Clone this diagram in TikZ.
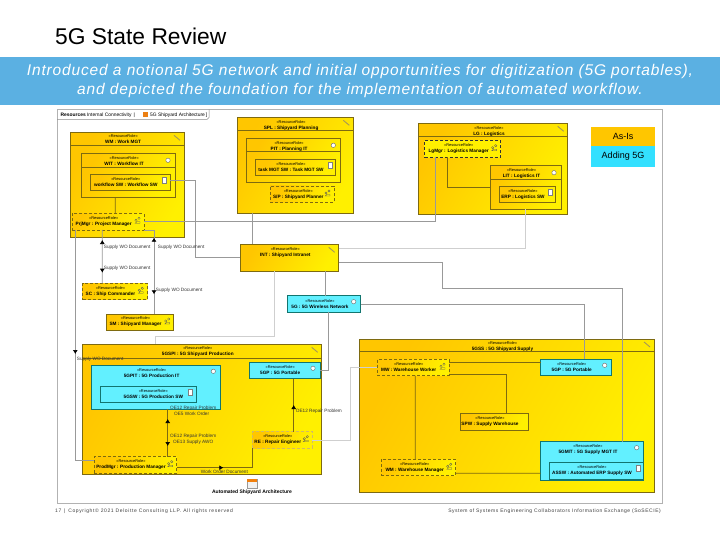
\documentclass[tikz,border=0pt]{standalone}
\usepackage{fontspec}
\setmainfont{Liberation Sans}
\usetikzlibrary{arrows.meta}
\usetikzlibrary{calc}
\usetikzlibrary{decorations.markings}
\definecolor{banner}{HTML}{5BB0E2}
\definecolor{orangey}{HTML}{FFC600}
\definecolor{yellowy}{HTML}{FFF000}
\definecolor{cyanbox}{HTML}{62F0FF}
\definecolor{legendcy}{HTML}{33E0FF}
\definecolor{olivey}{HTML}{7E6A10}
\definecolor{tealy}{HTML}{12756F}
\definecolor{wire}{HTML}{999999}
\definecolor{paleline}{HTML}{CFCFCF}
\newcommand{\rr}{{\fontsize{3.9}{6}\selectfont «ResourceRole»}}
\newcommand{\nm}[1]{{\bfseries #1}}
\newcommand{\rn}[2][9pt]{\rr\kern#1\relax\\\nm{#2}\kern#1\relax}
\newcommand{\hdr}[3]{\node[hdrtext] (#1txt) at ($(#1.north)+(-4.2,#3)$) {\rr\\\nm{#2}};}
\newcommand{\hdrline}[3]{\draw[#3] ($(#1.north west)+(0,#2)$) -- ($(#1.north east)+(0,#2)$);}
\begin{document}
\begin{tikzpicture}[x=1pt, y=-1pt, font=\fontsize{4.7}{6}\selectfont]

    % TikZ styles for drawing %%%%%%%%%%%%%%%%%%%%%%%%%%%%%%%%%%%%%%%%%%%%%%%%%%%%%%
    \tikzset{dims/.style 2 args={minimum width=#1,minimum height=#2}}
    \tikzstyle{base} = [rectangle,inner sep=0pt,outer sep=0pt,align=center]
    \tikzstyle{role} = [base,draw=olivey,line width=0.7pt,left color=orangey,right color=yellowy,shading angle=60]
    \tikzstyle{roledash} = [role,dash pattern=on 3pt off 2pt]
    \tikzstyle{sysfive} = [base,draw=tealy,line width=0.8pt,fill=cyanbox]
    \tikzstyle{hdrtext} = [inner sep=0pt,anchor=north,align=center]
    \tikzstyle{note} = [inner sep=0pt,anchor=west,text=black!80]
    \tikzstyle{line} = [wire,line width=0.7pt]
    \tikzstyle{pale} = [paleline,line width=0.7pt]
    \tikzstyle{inner} = [olivey,line width=0.7pt]
    \tikzset{flow/.style={postaction={decorate,decoration={markings,mark=at position #1 with {\arrow[black]{Latex[length=4pt,width=5pt]}}}}},
      back/.style={postaction={decorate,decoration={markings,mark=at position #1 with {\arrowreversed[black]{Latex[length=4pt,width=5pt]}}}}}}

    % Page %%%%%%%%%%%%%%%%%%%%%%%%%%%%%%%%%%%%%%%%%%%%%%%%%%%%%%%%%%%%%%%%%%%%%%%%%%
    \useasboundingbox (0,0) rectangle (720,540);
    \fill[white] (0,0) rectangle (720,540);
    \node[anchor=west,inner sep=0pt,font=\fontsize{22.8}{26}\selectfont] (title) at (55,36) {5G State Review};
    \node[base,fill=banner,dims={720pt}{47.7pt},text=white,
          font=\fontsize{15.5}{19}\selectfont\itshape\addfontfeatures{LetterSpace=5.5}] (banner) at (360,81.15)
      {Introduced a notional 5G network and initial opportunities for digitization (5G portables),\\
       and depicted the foundation for the implementation of automated workflow.};
    \node[base,draw=black!30,line width=0.8pt,fill=white,dims={605pt}{394pt}] (frame) at (359.5,306.5) {};

    % Diagram tab
    \draw[black!45,line width=0.5pt] (frame.north west) ++(0,10) -- ++(150,0) -- ++(2,-2) -- ++(0,-8);
    \node[anchor=west,inner sep=0pt,font=\fontsize{4.9}{6}\selectfont] (tab) at (60.5,115)
      {\nm{Resources} Internal Connectivity \,|};
    \node[anchor=west,inner sep=0pt,font=\fontsize{4.9}{6}\selectfont] (tabname) at (150,115)
      {5G Shipyard Architecture\,]};
    \node[base,fill=orange!70!brown,dims={5pt}{5pt}] (tabicon) at (145.5,115) {};

    % Legend
    \node[base,fill=orangey,dims={64pt}{19pt},font=\fontsize{9}{10}\selectfont] (asis) at (623,136.8) {As-Is};
    \node[base,fill=legendcy,dims={64pt}{20.7pt},font=\fontsize{9}{10}\selectfont] (adding) at (623,156.65) {Adding 5G};

    % Top left: work management %%%%%%%%%%%%%%%%%%%%%%%%%%%%%%%%%%%%%%%%%%%%%%%%%%%%%%
    \node[role,dims={113.3pt}{105.4pt}] (wm) at (127.35,185) {};
    \hdr{wm}{WM : Work MGT}{2.2}
    \hdrline{wm}{13.4}{inner}
    \node[role,dims={93.3pt}{44pt}] (wit) at (128.35,175.3) {};
    \hdr{wit}{WIT : Workflow IT}{2.7}
    \hdrline{wit}{14.4}{inner}
    \node[role,dims={80pt}{16.4pt}] (wfsw) at (130.3,182.5) {\rn{workflow SW : Workflow SW}};
    \node[roledash,dims={71.7pt}{16.7pt}] (prjmgr) at (108.15,221.65) {\rn{PrjMgr : Project Manager}};

    \node[role,dims={64.6pt}{16.4pt},roledash] (sc) at (115,291.5) {\rn{SC : Ship Commander}};
    \node[role,dims={67.4pt}{16pt}] (sm) at (140,322) {\rn{SM : Shipyard Manager}};

    % Top middle: shipyard planning and intranet %%%%%%%%%%%%%%%%%%%%%%%%%%%%%%%%%%%%%%
    \node[role,dims={116pt}{96pt}] (spl) at (295.3,165.3) {};
    \hdr{spl}{SPL : Shipyard Planning}{2.7}
    \hdrline{spl}{13.4}{inner}
    \node[role,dims={94pt}{44.4pt}] (pit) at (293.3,160.5) {};
    \hdr{pit}{PIT : Planning IT}{2.7}
    \hdrline{pit}{13.4}{inner}
    \node[role,dims={80.4pt}{16.4pt}] (task) at (295.5,167.5) {\rn{task MGT SW : Task MGT SW}};
    \node[roledash,dims={64pt}{16.3pt}] (sp) at (302,194.15) {\rn[7.4pt]{S/P : Shipyard Planner}};
    \node[role,dims={98.4pt}{27pt}] (int) at (289.5,257.8) {};
    \hdr{int}{INT : Shipyard Intranet}{2.7}
    \node[sysfive,dims={73pt}{16.6pt}] (wl) at (324.2,304) {\rn[8.4pt]{5G : 5G Wireless Network}};

    % Top right: logistics %%%%%%%%%%%%%%%%%%%%%%%%%%%%%%%%%%%%%%%%%%%%%%%%%%%%%%%%%%%%
    \node[role,dims={149pt}{91pt}] (lg) at (493.2,168.8) {};
    \hdr{lg}{LG : Logistics}{3}
    \hdrline{lg}{13.4}{inner}
    \node[role,draw=black!80,dash pattern=on 3pt off 2pt,dims={76pt}{16.6pt},left color=yellowy,right color=yellowy] (lgmgr) at (462.7,149) {\rn[8pt]{LgMgr : Logistics Manager}};
    \node[role,dims={70.7pt}{43.6pt}] (lit) at (525.65,187.5) {};
    \hdr{lit}{LIT : Logistics IT}{2.7}
    \hdrline{lit}{13.4}{inner}
    \node[role,dims={56.4pt}{16pt}] (erp) at (527.5,194.3) {\rn{ERP : Logistics SW}};

    % Bottom left: 5G shipyard production %%%%%%%%%%%%%%%%%%%%%%%%%%%%%%%%%%%%%%%%%%%%%
    \node[role,dims={239.4pt}{129.7pt},line width=0.9pt] (spi) at (202,409.15) {};
    \hdr{spi}{5GSPI : 5G Shipyard Production}{2.2}
    \hdrline{spi}{14}{inner}
    \node[sysfive,dims={129pt}{44pt}] (pitfive) at (155.8,387.3) {};
    \hdr{pitfive}{5GPIT : 5G Production IT}{2.7}
    \node[sysfive,dims={96pt}{16pt}] (prodsw) at (148.3,394.3) {\hspace*{10pt}\rr\\\hspace*{10pt}\nm{5GSW : 5G Production SW}};
    \node[sysfive,dims={70.7pt}{16.4pt}] (gp) at (284.65,370.5) {\rn{5GP : 5G Portable}};
    \node[role,draw=orangey!70!black!60,dash pattern=on 3pt off 2pt,dims={60pt}{16.3pt}] (re) at (282.3,439.85) {\rn{RE : Repair Engineer}};
    \node[roledash,dims={82.4pt}{16.6pt}] (prodmgr) at (135.5,465) {\rn{ProdMgr : Production Manager}};

    % Bottom right: 5G shipyard supply %%%%%%%%%%%%%%%%%%%%%%%%%%%%%%%%%%%%%%%%%%%%%%%%
    \node[role,dims={294.7pt}{153.7pt},line width=0.9pt] (ss) at (506.65,415.85) {};
    \hdr{ss}{5GSS : 5G Shipyard Supply}{2.2}
    \hdrline{ss}{12}{inner}
    \node[roledash,dims={71.7pt}{16.4pt}] (mw) at (413.15,367.5) {\rn{MW : Warehouse Worker}};
    \node[sysfive,dims={71pt}{16.4pt}] (gpsup) at (576.2,367.5) {\rn{5GP : 5G Portable}};
    \node[role,dims={68.4pt}{16.6pt}] (spw) at (494.5,422) {\rn{SPW : Supply Warehouse}};
    \node[sysfive,dims={103pt}{38.3pt}] (mit) at (592.2,460.85) {};
    \hdr{mit}{5GMIT : 5G Supply MGT IT}{3}
    \node[sysfive,dims={94.4pt}{17pt}] (assw) at (596.5,470.8) {\rn{ASSW : Automated ERP Supply SW}};
    \node[roledash,dims={74.7pt}{15.7pt}] (wh) at (418.35,467.15) {\rn[7.3pt]{WM : Warehouse Manager}};

    % Now link the nodes %%%%%%%%%%%%%%%%%%%%%%%%%%%%%%%%%%%%%%%%%%%%%%%%%%%%%%%%%%%%%%%%
    \draw [inner] ([xshift=-13.05pt]wit.south) -- ([xshift=7.15pt]prjmgr.north);
    \draw [line]  ([yshift=2.5pt]wfsw.east) -- ++(25.4,0) |- (int.west);
    \draw [line]  (prjmgr.east) -| ([xshift=-27pt]lgmgr.south);
    \draw [line]  ([xshift=-43pt]spl.south) -- ([xshift=-37.2pt]int.north);
    \draw [pale]  ([yshift=9.5pt]int.east) -| (lit.south);
    \draw [line]  ([yshift=-4.5pt]int.east) -- ++(103.6,0) -- ++(0,26) -| ([xshift=30.5pt]mit.north);
    \draw [pale]  ([xshift=-15.2pt]int.south) -- ++(0,65.4) -| ([xshift=-46.3pt]spi.north);
    \draw [line]  ([xshift=35.8pt]int.south) -- ([xshift=1.1pt]wl.north);
    \draw [line]  (wl.east) -| ([xshift=8.1pt]gpsup.north);
    \draw [line]  ([xshift=4.1pt]wl.south) |- (gp.east);
    \draw [inner] ([xshift=-15.4pt]lgmgr.south) |- (lit.west);

    \draw [line,back=10pt,flow=42.7pt] ([xshift=-5.85pt]prjmgr.south) -- ([xshift=-12.7pt]sc.north);
    \draw [line,back=17.7pt,flow=74.3pt] (prjmgr.south east) -| ([xshift=14pt]sm.north);
    \draw [line,flow=124pt] ([xshift=-32.85pt]prjmgr.south) |- ([yshift=5pt]prodmgr.west);
    \draw [inner,back=9.7pt,flow=36.7pt] ([xshift=11.9pt]pitfive.south) -- ([xshift=32.2pt]prodmgr.north);
    \draw [inner,back=26.3pt] ([xshift=9.05pt]gp.south) -- ([xshift=11.4pt]re.north);
    \draw [inner,flow=46.6pt] ([yshift=-2.7pt]prodmgr.east) -| (re.south west);
    \draw [pale]  (re.east) -- ++(37.7,0) |- (mw.west);

    \draw [inner] ([yshift=5.2pt]mw.east) -- ([yshift=5.2pt]gpsup.west);
    \draw [inner] ([yshift=-6.8pt]mw.east) -| ([xshift=12.2pt]spw.north);
    \draw [inner] ([xshift=2.15pt]mw.south) -- ([xshift=-3.05pt]wh.north);
    \draw [inner] ([yshift=-6.15pt]wh.east) -- ([yshift=-12.45pt]mit.west);

    % Flow labels %%%%%%%%%%%%%%%%%%%%%%%%%%%%%%%%%%%%%%%%%%%%%%%%%%%%%%%%%%%%%%%%%%%%%%
    \node[note] (flowa) at (103.7,247) {Supply WO Document};
    \node[note] (flowb) at (103.7,268.3) {Supply WO Document};
    \node[note] (flowc) at (157.7,247) {Supply WO Document};
    \node[note] (flowd) at (155.7,290) {Supply WO Document};
    \node[note] (flowe) at (76.7,359.7) {Supply WO Document};
    \node[note,align=left,anchor=north west] (flowf) at (170,405.5) {OE12 Repair Problem\\\hspace*{4pt}OE5 Work Order};
    \node[note,align=left,anchor=north west] (flowg) at (170,433.5) {OE12 Repair Problem\\\hspace*{3pt}OE13 Supply AWO};
    \node[note] (flowh) at (295.7,411) {OE12 Repair Problem};
    \node[note] (flowi) at (200.7,472.3) {Work Order Document};

    % Small icons in the box corners %%%%%%%%%%%%%%%%%%%%%%%%%%%%%%%%%%%%%%%%%%%%%%%%%%
    \foreach \boxname in {wm,spl,int,lg,spi,ss}
      \draw [olivey!70,line width=0.9pt] ($(\boxname.north east)+(-10,3)$) -- ++(6,5);
    \foreach \boxname in {wit,pit,lit}
      \draw [black!60,fill=white,line width=0.4pt] ($(\boxname.north east)+(-7,7)$) circle (2.2pt);
    \foreach \boxname in {wl,pitfive,gp,gpsup,mit}
      \draw [black!60,fill=white,line width=0.4pt] ($(\boxname.north east)+(-7,6)$) circle (2.2pt);
    \foreach \boxname in {wfsw,task,erp,prodsw,assw}
      \draw [black!50,fill=white,line width=0.3pt] ($(\boxname.north east)+(-8,3)$) rectangle ++(4,6);
    \foreach \boxname in {prjmgr,sc,sm,sp,lgmgr,re,prodmgr,mw,wh}
      \draw [black!65,line width=0.3pt] ($(\boxname.north east)+(-5,5)$) circle (1.2pt) ($(\boxname.north east)+(-8,7)$) circle (1.2pt) ($(\boxname.north east)+(-9,10)$) -- ++(2,-1.5) -- ++(3,0) -- ++(0,1.5) -- cycle;

    % Model element below the production box
    \node[anchor=center,inner sep=0pt,font=\fontsize{5}{6}\selectfont\bfseries] (arch) at (252,492.3) {Automated Shipyard Architecture};
    \node[base,draw=black!40,fill=black!5,line width=0.3pt,dims={10pt}{9pt}] (archicon) at (252,483.5) {};
    \fill[orange!80!brown] (archicon.north west) rectangle ($(archicon.north east)+(0,3)$);

    % Footer
    \node[anchor=west,inner sep=0pt,text=black!75,font=\fontsize{5}{6}\selectfont\addfontfeatures{LetterSpace=12}] (footl) at (55,511) {17 \,|\, Copyright© 2021 Deloitte Consulting LLP. All rights reserved};
    \node[anchor=east,inner sep=0pt,text=black!75,font=\fontsize{5}{6}\selectfont\addfontfeatures{LetterSpace=10.5}] (footr) at (661,511) {System of Systems Engineering Collaborators Information Exchange (SoSECIE)};
\end{tikzpicture}
\end{document}
